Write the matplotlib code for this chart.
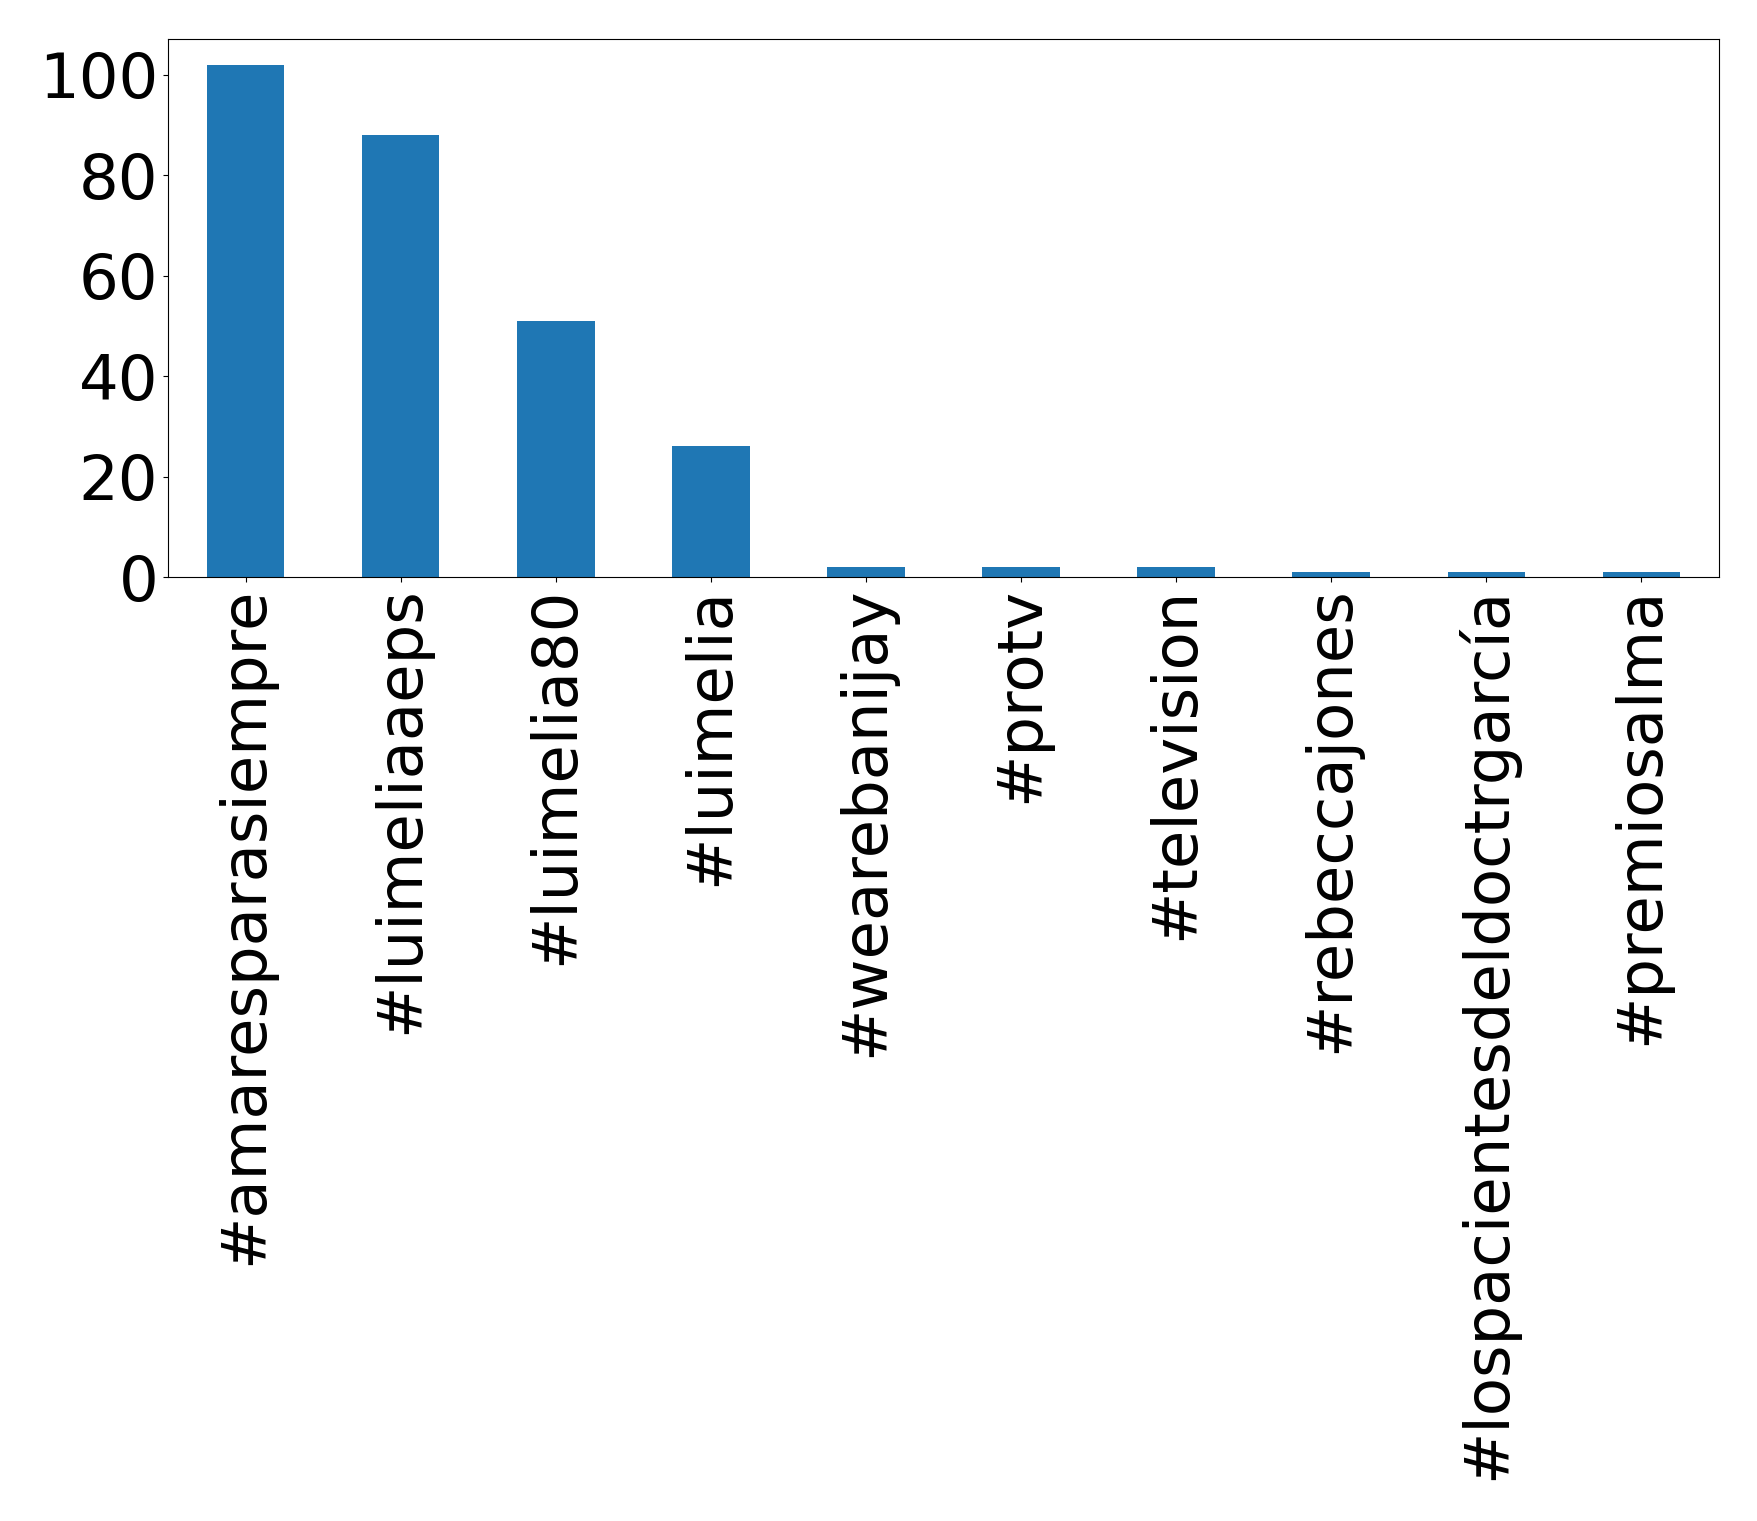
import matplotlib
matplotlib.use('Agg')
import matplotlib.pyplot as plt

hashtags = ['#amaresparasiempre', '#luimeliaaeps', '#luimelia80', '#luimelia',
            '#wearebanijay', '#protv', '#television', '#rebeccajones',
            '#lospacientesdeldoctrgarcía', '#premiosalma']
counts = [102, 88, 51, 26, 2, 2, 2, 1, 1, 1]

fig = plt.figure(figsize=(17.58, 15.21), dpi=100)
ax = fig.add_axes([168 / 1758, 1 - 577 / 1521, (1719 - 168) / 1758, (577 - 39) / 1521])
x = range(len(hashtags))
ax.bar(x, counts, width=0.5, color='#1f77b4')
ax.set_xlim(-0.5, len(hashtags) - 0.5)
ax.set_xticks(list(x))
ax.set_xticklabels(hashtags, rotation=90)
ax.tick_params(axis='both', labelsize=45)
ax.set_yticks([0, 20, 40, 60, 80, 100])

fig.savefig('out.png', dpi=100)
